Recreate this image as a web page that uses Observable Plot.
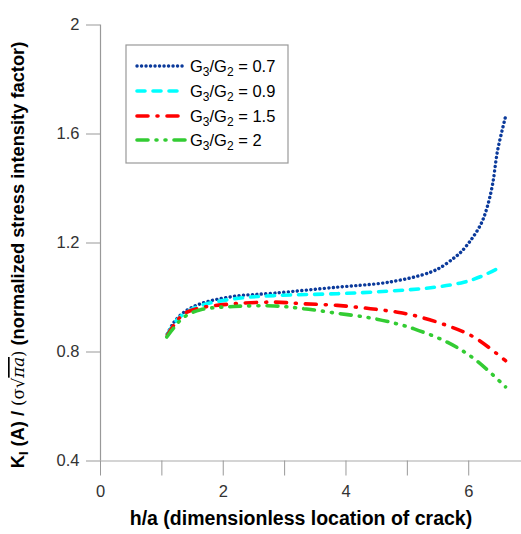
<!DOCTYPE html>
<html><head><meta charset="utf-8">
<script src="https://cdn.jsdelivr.net/npm/d3@7"></script>
<script src="https://cdn.jsdelivr.net/npm/@observablehq/plot@0.6"></script>
<style>
html,body{margin:0;padding:0;background:#fff;}
</style>
</head><body>
<div id="chart"></div>
<script>
// ---- data ----
const ratios = ["0.7", "0.9", "1.5", "2"];
const xTicks = [0, 1, 2, 3, 4, 5, 6];
const yTicks = [0.4, 0.8, 1.2, 1.6, 2];
const yTickLabels = ["0.4", "0.8", "1.2", "1.6", "2"];

const x07 = [1.09,1.2,1.36,1.63,2.17,2.83,3.86,4.57,4.84,5.11,5.38,5.54,5.76,5.87,6.03,6.2,6.3,6.39,6.47,6.6];
const y07 = [0.867,0.91,0.946,0.977,1.004,1.016,1.038,1.052,1.062,1.075,1.093,1.11,1.145,1.166,1.209,1.27,1.331,1.417,1.539,1.664];

const x09 = [1.09,1.2,1.36,1.63,2.17,2.83,3.86,4.67,5.38,5.92,6.2,6.54];
const y09 = [0.865,0.905,0.94,0.97,0.995,1.007,1.014,1.023,1.036,1.056,1.077,1.114];

const x15 = [1.09,1.2,1.36,1.63,2.17,2.83,3.31,3.86,4.4,4.84,5.11,5.65,6.09,6.6];
const y15 = [0.862,0.9,0.94,0.962,0.977,0.983,0.977,0.971,0.959,0.946,0.934,0.897,0.854,0.768];

const x20 = [1.08,1.2,1.36,1.63,2.17,2.83,3.31,3.86,4.4,4.84,5.11,5.65,6.09,6.6];
const y20 = [0.855,0.89,0.928,0.955,0.967,0.969,0.959,0.942,0.925,0.903,0.885,0.836,0.775,0.672];

// ---- styles ----
const styles = [
  {stroke:"#0b3a9b", strokeWidth:3.4, dash:"0.1 4.4"},
  {stroke:"#00ffff", strokeWidth:3.6, dash:"8 8"},
  {stroke:"#ff0000", strokeWidth:3.6, dash:"11 9 1 9"},
  {stroke:"#33cc33", strokeWidth:3.6, dash:"11 8 1 8 1 8"}
];
const series = [[x07,y07],[x09,y09],[x15,y15],[x20,y20]];
const tables = series.map(([xs, ys]) => xs.map((x, i) => ({x, y: ys[i]})));

const W = 521, H = 534;
const chart = Plot.plot({
  width: W, height: H,
  marginLeft: 100, marginRight: 0, marginTop: 24.5, marginBottom: 73.5,
  x: {domain: [0, 6.86]},
  y: {domain: [0.4, 2]},
  style: {fontFamily: "'Liberation Sans', Arial, sans-serif", fontSize: "16.5px", color: "#333", background: "#fff"},
  marks: [
    Plot.ruleY([0.4], {stroke: "#aaa", strokeWidth: 1.2}),
    Plot.ruleX([0], {stroke: "#999", strokeWidth: 1.2}),
    Plot.axisY({ticks: yTicks, tickSize: 14, tickPadding: 7, label: null, stroke: "#999", strokeOpacity: 1,
      tickFormat: d => yTickLabels[yTicks.indexOf(d)]}),
    Plot.axisX({ticks: xTicks, tickSize: 15, tickPadding: 9, label: null, stroke: "#999", strokeOpacity: 1,
      tickFormat: d => d % 2 ? "" : String(d)}),
    ...tables.map((t, i) => Plot.line(t, {
      x: "x", y: "y", stroke: styles[i].stroke, strokeWidth: styles[i].strokeWidth,
      strokeDasharray: styles[i].dash, strokeLinecap: "round", curve: "catmull-rom"
    }))
  ]
});
document.getElementById("chart").appendChild(chart);

const svg = d3.select(chart);
const font = "'Liberation Sans', Arial, sans-serif";

// x axis title
svg.append("text")
  .attr("x", 301).attr("y", 525)
  .attr("text-anchor", "middle")
  .attr("font-family", font).attr("font-weight", "bold").attr("font-size", 19.5)
  .attr("fill", "#000")
  .text("h/a (dimensionless location of crack)");

// y axis title
const yl = svg.append("text")
  .attr("transform", "translate(24,255) rotate(-90)")
  .attr("text-anchor", "middle")
  .attr("font-family", font).attr("font-weight", "bold").attr("font-size", 18.3)
  .attr("fill", "#000");
yl.append("tspan").text("K");
yl.append("tspan").attr("font-size", 12.5).attr("dy", 4).text("I");
yl.append("tspan").attr("dy", -4).text(" (A) / ");
yl.append("tspan").attr("font-weight", "normal").attr("font-family", "'DejaVu Serif', serif").attr("font-size", 16.5).text("(σ√");
yl.append("tspan").attr("font-weight", "normal").attr("font-family", "'DejaVu Serif', serif").attr("font-style", "italic").attr("font-size", 16.5)
  .style("text-decoration", "overline").text("πa");
yl.append("tspan").attr("font-weight", "normal").attr("font-family", "'DejaVu Serif', serif").attr("font-size", 16.5).text(")");
yl.append("tspan").text(" (normalized stress intensity factor)");

// legend
const lg = svg.append("g");
const bx = 126, by = 45, bw = 162, bh = 118;
lg.append("rect").attr("x", bx).attr("y", by).attr("width", bw).attr("height", bh)
  .attr("fill", "#fff").attr("stroke", "#999").attr("stroke-width", 1.2);
const rowY = [66, 91, 116, 140];
ratios.forEach((r, i) => {
  lg.append("line").attr("x1", 137).attr("x2", 185).attr("y1", rowY[i]).attr("y2", rowY[i])
    .attr("stroke", styles[i].stroke).attr("stroke-width", styles[i].strokeWidth)
    .attr("stroke-dasharray", styles[i].dash).attr("stroke-linecap", "round");
  const t = lg.append("text").attr("x", 190).attr("y", rowY[i] + 5.5)
    .attr("text-anchor", "start")
    .attr("font-family", font).attr("font-size", 16.5).attr("fill", "#000");
  t.append("tspan").text("G");
  t.append("tspan").attr("font-size", 12).attr("dy", 4).text("3");
  t.append("tspan").attr("dy", -4).text("/G");
  t.append("tspan").attr("font-size", 12).attr("dy", 4).text("2");
  t.append("tspan").attr("dy", -4).text(" = " + r);
});
</script>
</body></html>
